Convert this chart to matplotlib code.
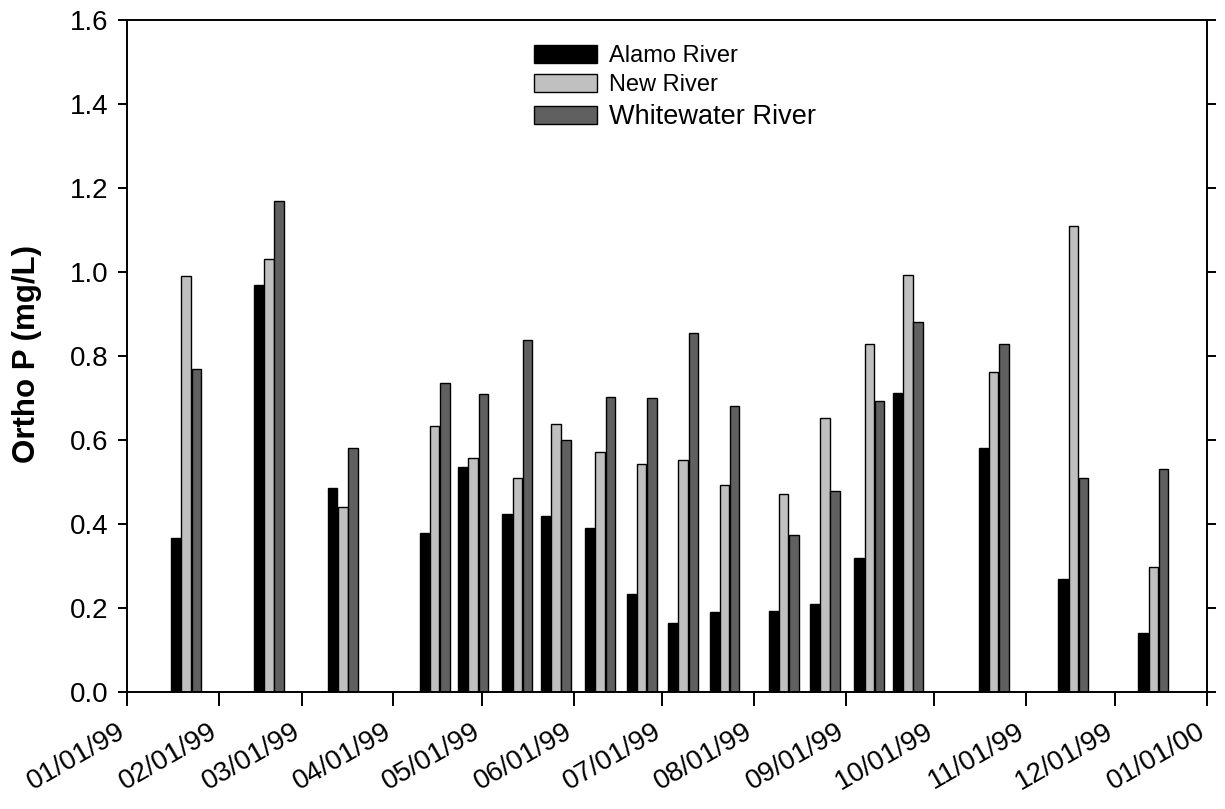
import matplotlib
matplotlib.use("Agg")
import matplotlib.pyplot as plt
import matplotlib.dates as mdates
import matplotlib.transforms as mtransforms
import numpy as np
import pandas as pd

plt.rcParams['font.family'] = ['Liberation Sans', 'DejaVu Sans']

# Sampling dates (centre of each group of three bars)
sample_dates = ['1999-01-21', '1999-02-18', '1999-03-15', '1999-04-15',
                '1999-04-28', '1999-05-13', '1999-05-26', '1999-06-10',
                '1999-06-24', '1999-07-08', '1999-07-22', '1999-08-11',
                '1999-08-25', '1999-09-09', '1999-09-22', '1999-10-21',
                '1999-11-17', '1999-12-14']

# Ortho-phosphate concentrations (mg/L)
alamo = [0.367, 0.969, 0.486, 0.379, 0.535, 0.424, 0.420, 0.390, 0.233,
         0.164, 0.190, 0.194, 0.209, 0.320, 0.713, 0.582, 0.270, 0.141]
new_river = [0.991, 1.031, 0.441, 0.633, 0.558, 0.509, 0.637, 0.571, 0.544,
             0.552, 0.494, 0.471, 0.653, 0.829, 0.994, 0.761, 1.109, 0.298]
whitewater = [0.768, 1.170, 0.581, 0.736, 0.710, 0.838, 0.600, 0.702, 0.699,
              0.855, 0.681, 0.374, 0.479, 0.694, 0.880, 0.829, 0.510, 0.530]

series_names = ['Alamo River', 'New River', 'Whitewater River']
series_colors = ['#000000', '#c0c0c0', '#606060']

y_ticks = [0.0, 0.2, 0.4, 0.6, 0.8, 1.0, 1.2, 1.4, 1.6]
month_ticks = pd.date_range('1999-01-01', '2000-01-01', freq='MS')

fig = plt.figure(figsize=(12.25, 8.09), dpi=100)
ax = fig.add_axes([0.1037, 0.1446, 0.8812, 0.8307])

x = mdates.date2num(pd.to_datetime(sample_dates))
offset = 3.45   # days between neighbouring bars in a group
width = 3.2     # bar width in days

handles = []
for i, (vals, name, col) in enumerate(zip([alamo, new_river, whitewater],
                                          series_names, series_colors)):
    b = ax.bar(x + (i - 1) * offset, vals, width=width, color=col,
               edgecolor='black', linewidth=1.0, label=name, zorder=2)
    handles.append(b)

ax.set_xlim(mdates.date2num(pd.Timestamp('1999-01-01')),
            mdates.date2num(pd.Timestamp('2000-01-01')))
ax.set_ylim(0, 1.6)

ax.set_yticks(y_ticks)
ax.set_yticklabels([f'{v:.1f}' for v in y_ticks])
ax.set_xticks(mdates.date2num(month_ticks))
ax.set_xticklabels([d.strftime('%m/%d/%y') for d in month_ticks])

for s in ax.spines.values():
    s.set_linewidth(1.4)

ax.tick_params(axis='y', which='both', direction='out', length=6.5, width=1.4,
               labelsize=20, pad=7, right=True)
ax.tick_params(axis='x', direction='out', length=10, width=1.4,
               labelsize=20, pad=9)

shift = mtransforms.ScaledTranslation(-10 / 100, 0, fig.dpi_scale_trans)
for lbl in ax.get_xticklabels():
    lbl.set_rotation(30)
    lbl.set_rotation_mode('anchor')
    lbl.set_ha('right')
    lbl.set_va('top')
    lbl.set_transform(lbl.get_transform() + shift)

ax.set_ylabel('Ortho P (mg/L)', fontsize=22.5, fontweight='bold')
ax.yaxis.set_label_coords(-0.0785, 0.503)

leg = ax.legend(handles=handles, loc='upper left',
                bbox_to_anchor=(0.368, 0.977), frameon=False,
                fontsize=17, handlelength=2.7, handleheight=0.8,
                handletextpad=0.5, labelspacing=0.3, borderaxespad=0)
leg.get_texts()[2].set_fontsize(19.5)

fig.savefig('out.png', dpi=100)
